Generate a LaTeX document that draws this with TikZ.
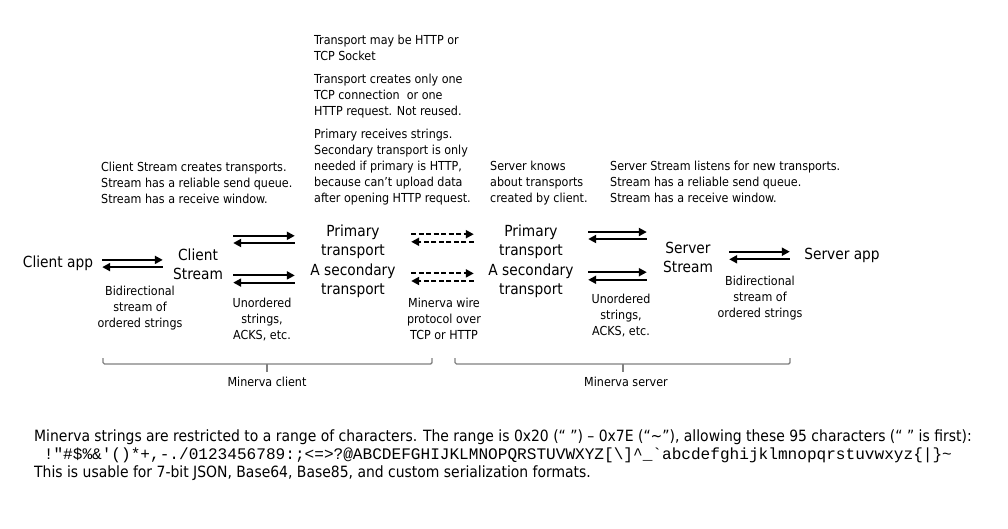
\documentclass[tikz,border=0pt]{standalone}
\usepackage{fontspec}
\setmainfont{DejaVu Sans Condensed}
\setmonofont{Liberation Mono}
\usetikzlibrary{arrows.meta}

\begin{document}
\begin{tikzpicture}[x=1pt,y=-1pt,
  part/.style={font=\fontsize{15.3}{19}\selectfont,align=center,inner sep=0pt,minimum height=14pt},
  note/.style={font=\fontsize{12.4}{16}\selectfont,align=left,anchor=north west,inner sep=0pt},
  tag/.style={font=\fontsize{12.4}{15.7}\selectfont,align=center,anchor=north,inner sep=0pt},
  link/.style={line width=2.1pt,-{Triangle[length=8pt,width=8pt]}},
  wire/.style={link,dash pattern=on 5pt off 2.5pt},
  brace/.style={gray,line width=1.4pt,rounded corners=1.5pt}]
 \useasboundingbox (0,0) rectangle (1008,528);
 % the parts
 \node[part,minimum width=88pt] (capp) at (58,263.5) {Client app};
 \node[part,minimum width=70pt] (cstream) at (198,264) {Client\\Stream};
 \node[part,minimum width=116pt] (cprim) at (353,242) {Primary\\transport};
 \node[part,minimum width=116pt] (csec) at (353,281) {A secondary\\transport};
 \node[part,minimum width=114pt] (sprim) at (531,242) {Primary\\transport};
 \node[part,minimum width=114pt] (ssec) at (531,281) {A secondary\\transport};
 \node[part,minimum width=82pt] (sstream) at (688,257.5) {Server\\Stream};
 \node[part,minimum width=104pt] (sapp) at (842,255.5) {Server app};
 % arrow pairs
 \draw[link] ([yshift=3.6pt]capp.east) -- ([yshift=3.6pt]capp.east -| cstream.west);
 \draw[link] ([yshift=-3.6pt]capp.east -| cstream.west) -- ([yshift=-3.6pt]capp.east);
 \draw[link] ([yshift=6.2pt]cstream.east |- cprim.west) -- ([yshift=6.2pt]cprim.west);
 \draw[link] ([yshift=-1pt]cprim.west) -- ([yshift=-1pt]cstream.east |- cprim.west);
 \draw[link] ([yshift=5.6pt]cstream.east |- csec.west) -- ([yshift=5.6pt]csec.west);
 \draw[link] ([yshift=-1.6pt]csec.west) -- ([yshift=-1.6pt]cstream.east |- csec.west);
 \draw[wire] ([yshift=7.8pt]cprim.east) -- ([yshift=7.8pt]sprim.west);
 \draw[wire] ([yshift=0.2pt]sprim.west) -- ([yshift=0.2pt]cprim.east);
 \draw[wire] ([yshift=7.6pt]csec.east) -- ([yshift=7.6pt]ssec.west);
 \draw[wire] ([yshift=0pt]ssec.west) -- ([yshift=0pt]csec.east);
 \draw[link] ([yshift=10pt]sprim.east) -- ([yshift=10pt]sprim.east -| sstream.west);
 \draw[link] ([yshift=3pt]sprim.east -| sstream.west) -- ([yshift=3pt]sprim.east);
 \draw[link] ([yshift=8.8pt]ssec.east) -- ([yshift=8.8pt]ssec.east -| sstream.west);
 \draw[link] ([yshift=1.2pt]ssec.east -| sstream.west) -- ([yshift=1.2pt]ssec.east);
 \draw[link] ([yshift=3.8pt]sstream.east |- sapp.west) -- ([yshift=3.8pt]sapp.west);
 \draw[link] ([yshift=-3.8pt]sapp.west) -- ([yshift=-3.8pt]sstream.east |- sapp.west);
 % notes above
 \node[note] (cnote) at (101,162) {Client Stream creates transports.\\Stream has a reliable send queue.\\Stream has a receive window.};
 \node[note] (tkind) at (314,35) {Transport may be HTTP or\\TCP Socket};
 \node[note] (tonce) at (314,74) {Transport creates only one\\TCP connection\ \ or one\\HTTP request. Not reused.};
 \node[note] (tsec) at (314,129) {Primary receives strings.\\Secondary transport is only\\needed if primary is HTTP,\\because can’t upload data\\after opening HTTP request.};
 \node[note] (sknow) at (490,161) {Server knows\\about transports\\created by client.};
 \node[note] (snote) at (610,161) {Server Stream listens for new transports.\\Stream has a reliable send queue.\\Stream has a receive window.};
 % labels under arrows
 \node[tag] (cbidi) at (140,286) {Bidirectional\\stream of\\ordered strings};
 \node[tag] (cunord) at (262,298) {Unordered\\strings,\\ACKS, etc.};
 \node[tag] (proto) at (444,298) {Minerva wire\\protocol over\\TCP or HTTP};
 \node[tag] (sunord) at (621,294) {Unordered\\strings,\\ACKS, etc.};
 \node[tag] (sbidi) at (760,276) {Bidirectional\\stream of\\ordered strings};
 % brackets
 \draw[brace] (103,358) -- (103,364) -- (432,364) -- (432,358);
 \draw[brace] (267,364) -- (267,372);
 \draw[brace] (455,358) -- (455,364) -- (790,364) -- (790,358);
 \draw[brace] (623,364) -- (623,372);
 \node[tag] (cside) at (267,377) {Minerva client};
 \node[tag] (sside) at (626,377) {Minerva server};
 % footer
 \node[anchor=north west,inner sep=0pt,align=left,font=\fontsize{15.5}{18}\selectfont] (chars) at (34,430)
  {Minerva strings are restricted to a range of characters. The range is 0x20 (“ ”) – 0x7E (“\textasciitilde”), allowing these 95 characters (“ ” is first):\\
   {\ttfamily\fontsize{16.1}{18}\selectfont\ !"\#\$\%\&'()*+,-./0123456789:;<=>?@ABCDEFGHIJKLMNOPQRSTUVWXYZ[\textbackslash]\^{}\_`abcdefghijklmnopqrstuvwxyz\{|\}\textasciitilde}\\
   This is usable for 7-bit JSON, Base64, Base85, and custom serialization formats.};
\end{tikzpicture}
\end{document}
